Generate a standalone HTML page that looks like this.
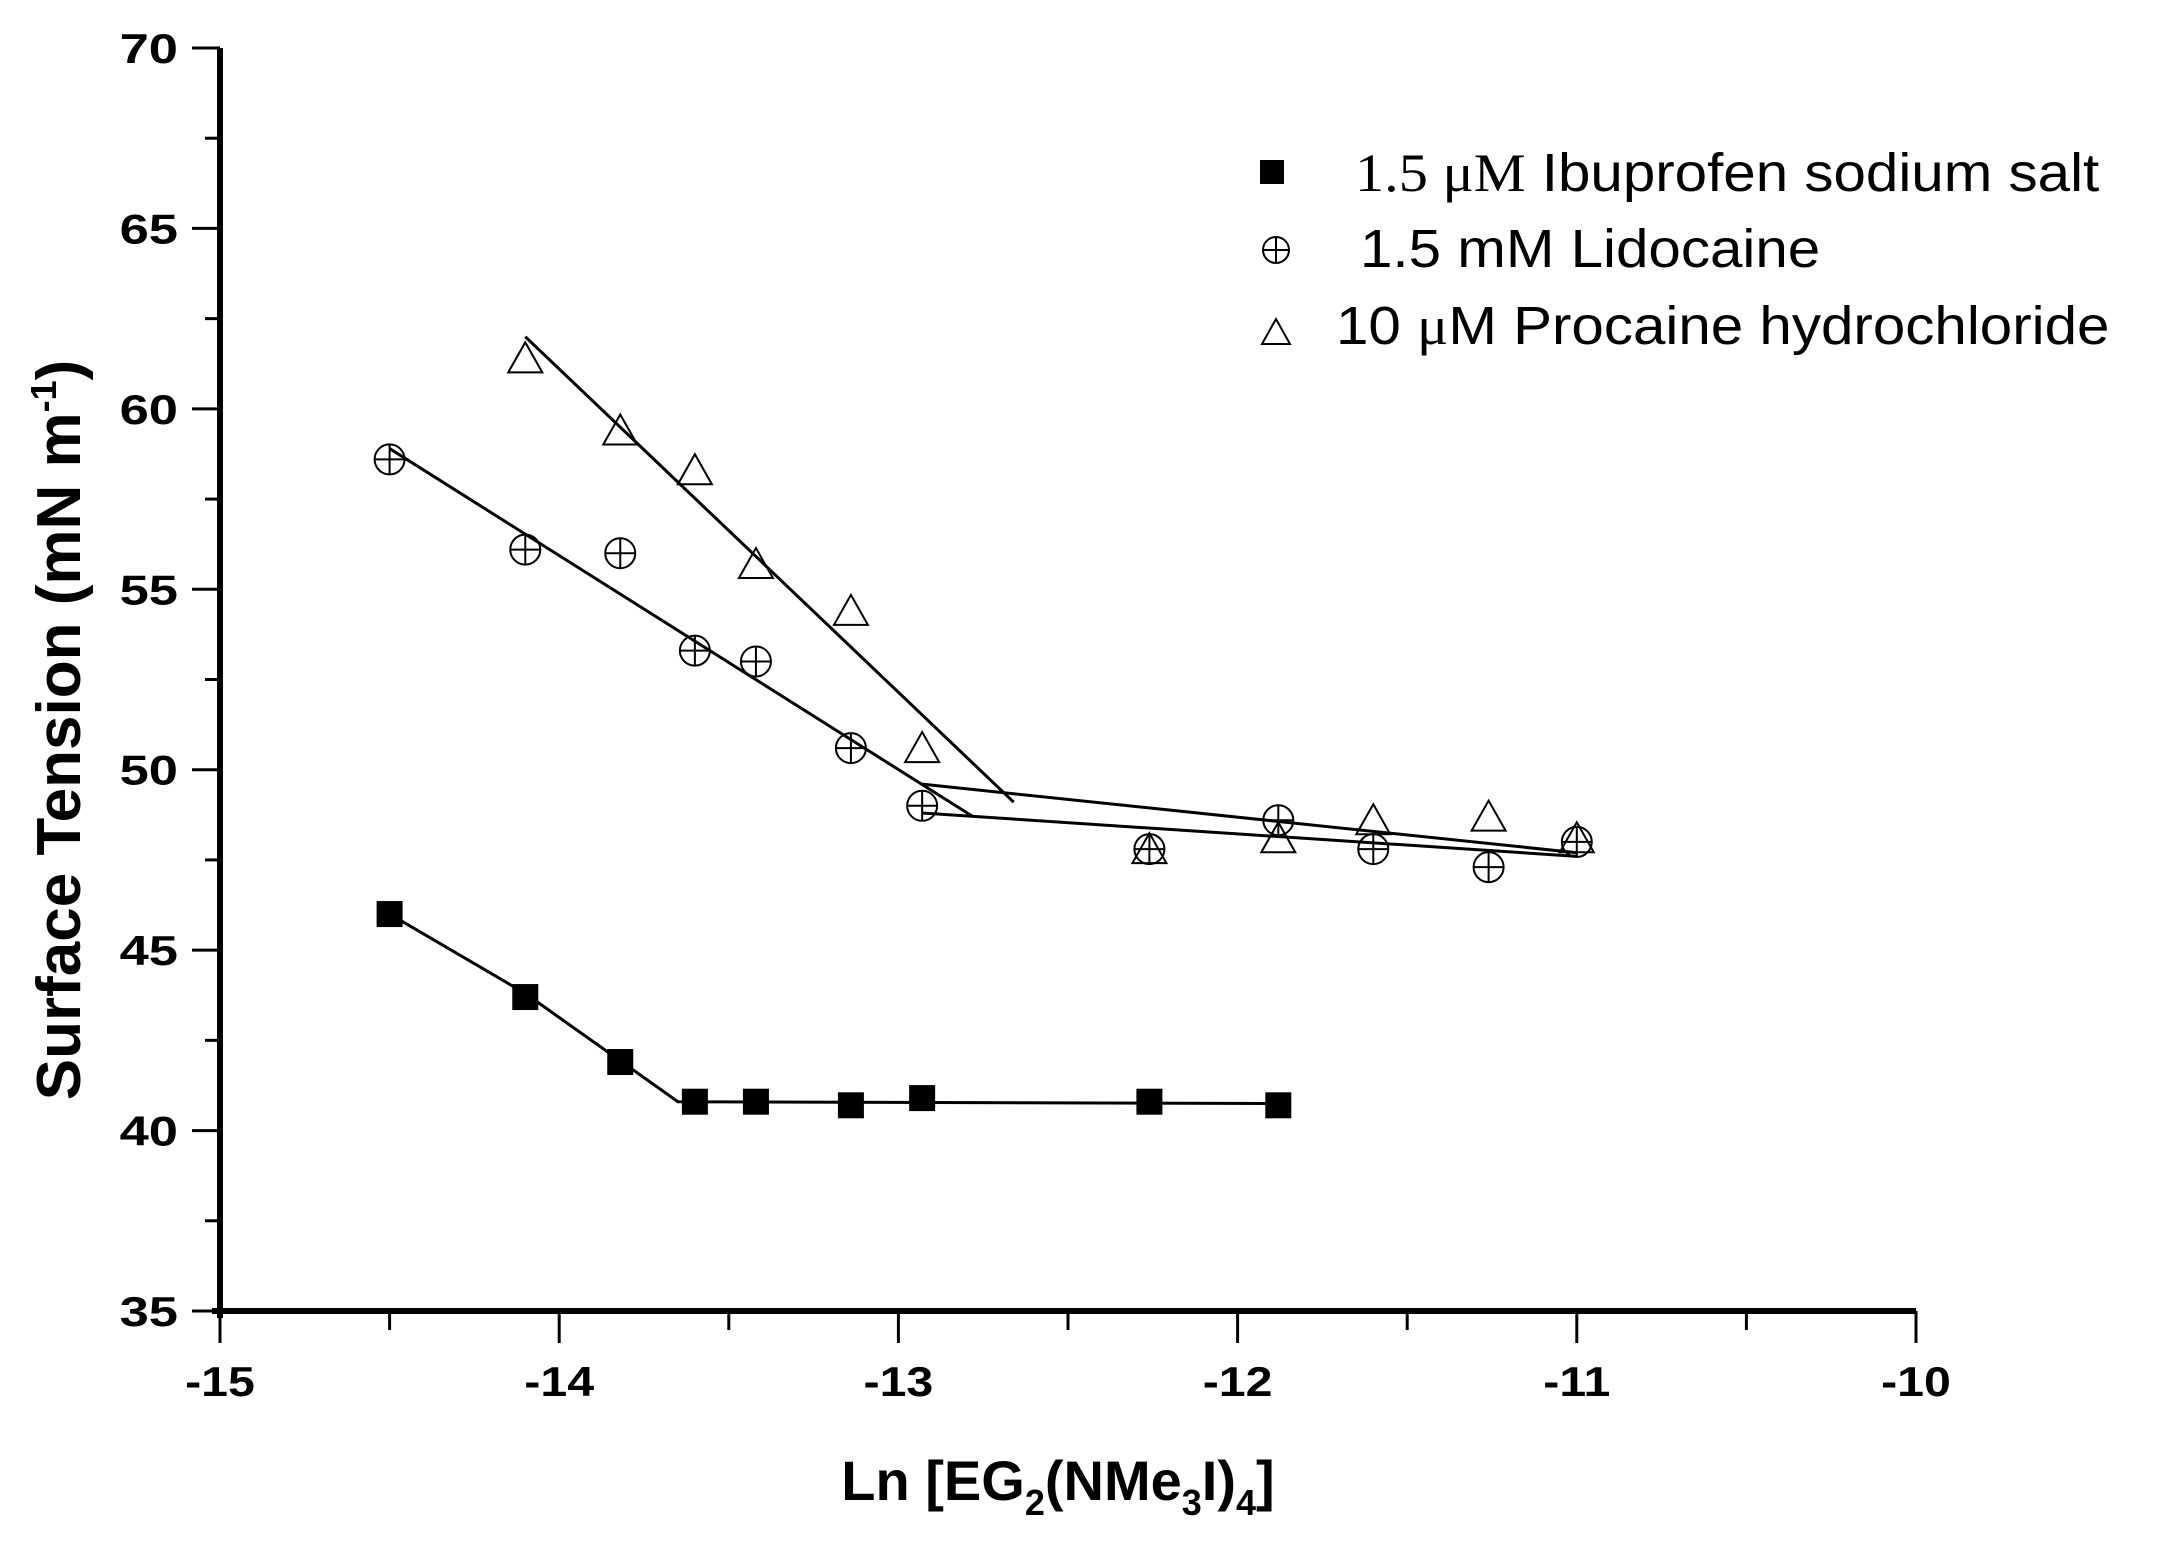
<!DOCTYPE html>
<html><head><style>body{margin:0;background:#fff}svg{display:block}</style></head>
<body>
<svg id="s" width="2157" height="1544" xmlns="http://www.w3.org/2000/svg" font-family="Liberation Sans, Arial, sans-serif">
<rect width="2157" height="1544" fill="#fff"/>
<g id="g"></g>
<text x="0" y="0" transform="translate(80,730) rotate(-90)" text-anchor="middle" font-size="62" font-weight="bold">Surface Tension (mN m<tspan dy="-24" font-size="36">-1</tspan><tspan dy="24">)</tspan></text>
<text x="1058" y="1500" text-anchor="middle" font-size="56" font-weight="bold">Ln [EG<tspan dy="15" font-size="36">2</tspan><tspan dy="-15">(NMe</tspan><tspan dy="15" font-size="36">3</tspan><tspan dy="-15">I)</tspan><tspan dy="15" font-size="36">4</tspan><tspan dy="-15">]</tspan></text>
<rect x="1260" y="160" width="24" height="24" fill="#000"/>
<text transform="translate(1355,191) scale(1.08,1)" font-size="54"><tspan font-family="Liberation Serif, serif">1.5 μM</tspan> Ibuprofen sodium salt</text>
<circle cx="1276" cy="250" r="13" fill="none" stroke="#000" stroke-width="2"/><path d="M1263 250h26M1276 237v26" stroke="#000" stroke-width="2"/>
<text transform="translate(1360,267) scale(1.08,1)" font-size="54">1.5 mM Lidocaine</text>
<path d="M1262 344l14-25 14 25z" fill="none" stroke="#000" stroke-width="2"/>
<text transform="translate(1336,344) scale(1.08,1)" font-size="54">10 <tspan font-family="Liberation Serif, serif">μ</tspan>M Procaine hydrochloride</text>
</svg>
<script>
var X0=220,X1=1916,Y0=1311,Y1=48;
function px(x){return X0+(x+15)/5*(X1-X0)}
function py(y){return Y0-(y-35)/35*(Y0-Y1)}
var h='';
h+='<line x1="'+X0+'" y1="'+Y1+'" x2="'+X0+'" y2="1318" stroke="#000" stroke-width="6"/>';
h+='<line x1="'+(X0-8)+'" y1="'+Y0+'" x2="'+X1+'" y2="'+Y0+'" stroke="#000" stroke-width="6"/>';
for(var v=35;v<=70;v+=2.5){var y=py(v),maj=(v%5==0);h+='<line x1="'+(maj?192:205)+'" y1="'+y+'" x2="'+X0+'" y2="'+y+'" stroke="#000" stroke-width="3"/>';if(maj)h+='<text transform="translate(178,'+(y+15)+') scale(1.25,1)" text-anchor="end" font-size="42" font-weight="bold">'+v+'</text>';}
for(var v=-15;v<=-10;v+=0.5){var x=px(v),maj=(v%1==0);h+='<line x1="'+x+'" y1="'+Y0+'" x2="'+x+'" y2="'+(maj?1343:1330)+'" stroke="#000" stroke-width="3"/>';if(maj)h+='<text transform="translate('+x+',1396) scale(1.15,1)" text-anchor="middle" font-size="42" font-weight="bold">'+v+'</text>';}
function line(p){h+='<polyline fill="none" stroke="#000" stroke-width="3" points="'+p.map(function(a){return px(a[0])+','+py(a[1])}).join(' ')+'"/>';}
line([[-14.5,46],[-14.1,43.8],[-13.65,40.8],[-11.88,40.75]]);
line([[-14.5,58.9],[-12.78,48.7]]);line([[-12.93,48.8],[-11,47.6]]);
line([[-14.1,62],[-12.66,49.1]]);line([[-12.93,49.6],[-11,47.7]]);
[[-14.5,46],[-14.1,43.7],[-13.82,41.9],[-13.6,40.8],[-13.42,40.8],[-13.14,40.7],[-12.93,40.9],[-12.26,40.8],[-11.88,40.7]].forEach(function(a){var x=px(a[0]),y=py(a[1]);h+='<rect x="'+(x-13)+'" y="'+(y-13)+'" width="26" height="26" fill="#000"/>';});
[[-14.5,58.6],[-14.1,56.1],[-13.82,56],[-13.6,53.3],[-13.42,53],[-13.14,50.6],[-12.93,49],[-12.26,47.8],[-11.88,48.6],[-11.6,47.8],[-11.26,47.3],[-11,48]].forEach(function(a){var x=px(a[0]),y=py(a[1]);h+='<circle cx="'+x+'" cy="'+y+'" r="15" fill="none" stroke="#000" stroke-width="2"/><path d="M'+(x-15)+' '+y+'h30M'+x+' '+(y-15)+'v30" stroke="#000" stroke-width="2"/>';});
[[-14.1,61.4],[-13.82,59.4],[-13.6,58.3],[-13.42,55.7],[-13.14,54.4],[-12.93,50.6],[-12.26,47.8],[-11.88,48.1],[-11.6,48.6],[-11.26,48.7],[-11,48.1]].forEach(function(a){var x=px(a[0]),y=py(a[1]);h+='<path d="M'+(x-17)+' '+(y+14)+'L'+x+' '+(y-16)+'L'+(x+17)+' '+(y+14)+'Z" fill="none" stroke="#000" stroke-width="2"/>';});
document.getElementById('g').innerHTML=h;
</script>
</body></html>
